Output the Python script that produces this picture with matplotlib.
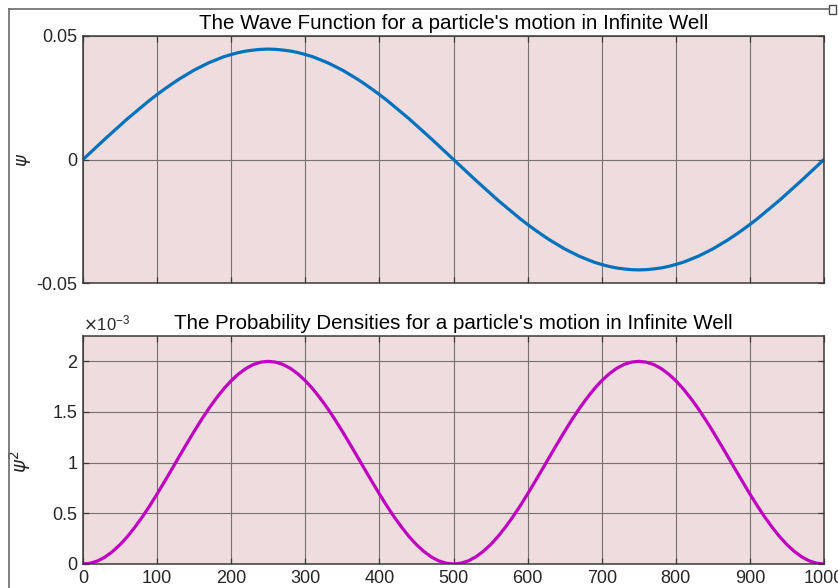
import numpy as np
import matplotlib
matplotlib.use("Agg")
import matplotlib.pyplot as plt
from matplotlib.ticker import FuncFormatter
from matplotlib.patches import Rectangle

# positions along the well (0..1000), every 10 units
x_pos = list(range(0, 1001, 10))

# wave function psi (units of 1e-4)
psi_e4 = [0, 28, 56, 84, 111, 138, 165, 190, 215, 240, 263, 285, 306, 326, 344,
          362, 377, 392, 404, 416, 425, 433, 439, 443, 446, 447,
          446, 443, 439, 433, 425, 416, 404, 392, 377, 362, 344, 326, 306, 285,
          263, 240, 215, 190, 165, 138, 111, 84, 56, 28, 0,
          -28, -56, -84, -111, -138, -165, -190, -215, -240, -263, -285, -306, -326, -344,
          -362, -377, -392, -404, -416, -425, -433, -439, -443, -446, -447,
          -446, -443, -439, -433, -425, -416, -404, -392, -377, -362, -344, -326, -306, -285,
          -263, -240, -215, -190, -165, -138, -111, -84, -56, -28, 0]
psi = [v * 1e-4 for v in psi_e4]

# probability density psi^2 (units of 1e-3)
psi_sq_e3 = [0, .008, .031, .070, .124, .191, .271, .363, .464, .574, .691, .813,
             .937, 1.063, 1.187, 1.309, 1.426, 1.536, 1.637, 1.729, 1.809, 1.876,
             1.930, 1.969, 1.992, 2.0,
             1.992, 1.969, 1.930, 1.876, 1.809, 1.729, 1.637, 1.536, 1.426, 1.309,
             1.187, 1.063, .937, .813, .691, .574, .464, .363, .271, .191, .124,
             .070, .031, .008, 0,
             .008, .031, .070, .124, .191, .271, .363, .464, .574, .691, .813,
             .937, 1.063, 1.187, 1.309, 1.426, 1.536, 1.637, 1.729, 1.809, 1.876,
             1.930, 1.969, 1.992, 2.0,
             1.992, 1.969, 1.930, 1.876, 1.809, 1.729, 1.637, 1.536, 1.426, 1.309,
             1.187, 1.063, .937, .813, .691, .574, .464, .363, .271, .191, .124,
             .070, .031, .008, 0]
psi_sq = [v * 1e-3 for v in psi_sq_e3]

x_ticks = list(range(0, 1001, 100))
top_yticks = [-0.05, 0, 0.05]
top_ylabels = ['-0.05', '0', '0.05']
bot_yticks = [0, 0.5e-3, 1e-3, 1.5e-3, 2e-3]

plt.rcParams['font.family'] = ['Liberation Sans', 'DejaVu Sans']

face = '#eedcde'
grid_col = '#7a7072'
spine_col = '#3a3a3a'
text_col = '#262626'

fig = plt.figure(figsize=(8.38, 5.88), dpi=100)
fig.patch.set_facecolor('white')

# window frame lines
fig.add_artist(plt.Line2D([9/838, 9/838], [0, 1 - 9/588], color='#6a6a6a', lw=1.2))
fig.add_artist(plt.Line2D([9/838, 829/838], [1 - 9/588, 1 - 9/588], color='#6a6a6a', lw=1.2))
fig.add_artist(Rectangle((829/838, 1 - 14/588), 7/838, 9/588, fill=False,
                         edgecolor='#4a4a4a', lw=1.0))


def style(ax):
    ax.set_facecolor(face)
    ax.set_xlim(0, 1000)
    ax.set_xticks(x_ticks)
    ax.grid(True, color=grid_col, lw=0.8)
    ax.set_axisbelow(True)
    ax.tick_params(direction='in', top=True, right=True, length=4,
                   width=0.9, color=spine_col, labelsize=13,
                   labelcolor=text_col, pad=4)
    for s in ax.spines.values():
        s.set_color(spine_col)
        s.set_linewidth(1.1)


ax1 = fig.add_axes([83/838, 1 - 283/588, 741/838, 247/588])
style(ax1)
ax1.plot(x_pos, psi, color='#0072bd', lw=2.3)
ax1.set_ylim(-0.05, 0.05)
ax1.set_yticks(top_yticks)
ax1.set_yticklabels(top_ylabels)
ax1.set_xticklabels([])
ax1.set_title("The Wave Function for a particle's motion in Infinite Well",
              fontsize=14.8, color='black', pad=5)
ax1.set_ylabel(r'$\psi$', fontsize=13, color=text_col)
ax1.yaxis.set_label_coords(-50/741, 0.5)

ax2 = fig.add_axes([83/838, 1 - 564/588, 741/838, 228/588])
style(ax2)
ax2.plot(x_pos, psi_sq, color='#c000c0', lw=2.3)
ax2.set_ylim(0, 2.25e-3)
ax2.set_yticks(bot_yticks)
ax2.yaxis.set_major_formatter(FuncFormatter(lambda v, p: f'{v*1e3:g}'))
ax2.set_xticklabels([str(t) for t in x_ticks])
ax2.set_title("The Probability Densities for a particle's motion in Infinite Well",
              fontsize=14.8, color='black', pad=5)
ax2.set_ylabel(r'$\psi^2$', fontsize=14, color=text_col)
ax2.yaxis.set_label_coords(-50/741, 0.45)
ax2.text(0.0, 1.01, r'$\times\mathregular{10^{-3}}$', transform=ax2.transAxes,
         fontsize=12, color=text_col, ha='left', va='bottom')

fig.savefig('out.png', dpi=100)
